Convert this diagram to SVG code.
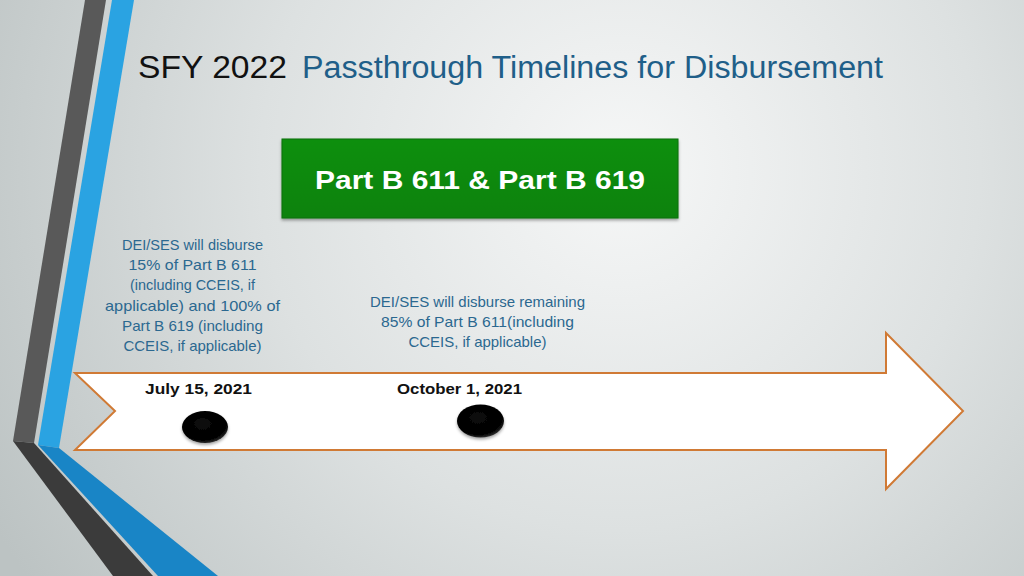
<svg xmlns="http://www.w3.org/2000/svg" width="1024" height="576" viewBox="0 0 1024 576">
<defs>
<radialGradient id="bg" cx="620" cy="170" r="720" gradientUnits="userSpaceOnUse">
<stop offset="0" stop-color="#f6f7f7"/>
<stop offset="0.5" stop-color="#dde1e1"/>
<stop offset="1" stop-color="#bcc3c3"/>
</radialGradient>
<radialGradient id="dot" cx="0.45" cy="0.4" r="0.6">
<stop offset="0" stop-color="#0a0a0a"/>
<stop offset="0.85" stop-color="#000"/>
<stop offset="1" stop-color="#2a2a2a"/>
</radialGradient>
<linearGradient id="grn" x1="0" y1="0" x2="0" y2="1">
<stop offset="0" stop-color="#0b8f0b"/>
<stop offset="1" stop-color="#08820a"/>
</linearGradient>
<filter id="sh" x="-20%" y="-20%" width="140%" height="160%">
<feGaussianBlur in="SourceAlpha" stdDeviation="1.5"/>
<feOffset dx="0" dy="2" result="b"/>
<feFlood flood-color="#000" flood-opacity="0.35"/>
<feComposite in2="b" operator="in"/>
<feMerge><feMergeNode/><feMergeNode in="SourceGraphic"/></feMerge>
</filter>
</defs>
<style>
.note{font-family:"Liberation Sans",Arial,sans-serif;font-size:15px;fill:#2b6890;text-anchor:middle}
.date{font-family:"Liberation Sans",Arial,sans-serif;font-size:15px;font-weight:bold;fill:#111;text-anchor:middle}
.title{font-family:"Liberation Sans",Arial,sans-serif;font-size:31px}
</style>
<rect width="1024" height="576" fill="url(#bg)"/>
<g id="decor">
<polygon points="85,0 106,0 34,443 13,441" fill="#595959"/>
<polygon points="112,0 134,0 59,448 38,445" fill="#2aa3e2"/>
<polygon points="13,441 34,443 153,576 113,576" fill="#3b3b3b"/>
<polygon points="38,445 59,448 218,576 158,576" fill="#1985c6"/>
</g>
<g id="title">
<text class="title" x="138" y="78"><tspan fill="#111" textLength="149" lengthAdjust="spacingAndGlyphs">SFY 2022</tspan><tspan fill="#1f5f89" x="302" textLength="581" lengthAdjust="spacingAndGlyphs">Passthrough Timelines for Disbursement</tspan></text>
</g>
<g id="header-box">
<rect x="282" y="139" width="396" height="79" fill="url(#grn)" stroke="#0b6f0b" stroke-width="1" filter="url(#sh)"/>
<text x="480" y="189" font-family="'Liberation Sans',Arial,sans-serif" font-size="26" font-weight="bold" fill="#fff" text-anchor="middle" textLength="330" lengthAdjust="spacingAndGlyphs">Part B 611 &amp; Part B 619</text>
</g>
<g id="timeline-arrow">
<polygon points="75,373 886,373 886,333 963,411 886,489 886,450 75,450 115,411" fill="#fff" stroke="#d07a35" stroke-width="2" stroke-linejoin="miter"/>
</g>
<g id="note-july">
<text class="note" x="192.5" y="250" textLength="141" lengthAdjust="spacingAndGlyphs">DEI/SES will disburse</text>
<text class="note" x="192.5" y="270" textLength="128" lengthAdjust="spacingAndGlyphs">15% of Part B 611</text>
<text class="note" x="192.5" y="290" textLength="125" lengthAdjust="spacingAndGlyphs">(including CCEIS, if</text>
<text class="note" x="192.5" y="311" textLength="175" lengthAdjust="spacingAndGlyphs">applicable) and 100% of</text>
<text class="note" x="192.5" y="331" textLength="141" lengthAdjust="spacingAndGlyphs">Part B 619 (including</text>
<text class="note" x="192.5" y="351" textLength="138" lengthAdjust="spacingAndGlyphs">CCEIS, if applicable)</text>
</g>
<g id="note-october">
<text class="note" x="477.5" y="307" textLength="215" lengthAdjust="spacingAndGlyphs">DEI/SES will disburse remaining</text>
<text class="note" x="477.5" y="327" textLength="193" lengthAdjust="spacingAndGlyphs">85% of Part B 611(including</text>
<text class="note" x="477.5" y="347" textLength="138" lengthAdjust="spacingAndGlyphs">CCEIS, if applicable)</text>
</g>
<g id="milestone-july">
<text class="date" x="198.5" y="394" textLength="107" lengthAdjust="spacingAndGlyphs">July 15, 2021</text>
<ellipse cx="205" cy="427" rx="23" ry="16" fill="url(#dot)" filter="url(#sh)"/>
</g>
<g id="milestone-october">
<text class="date" x="459.5" y="394" textLength="125" lengthAdjust="spacingAndGlyphs">October 1, 2021</text>
<ellipse cx="480.5" cy="421" rx="23.5" ry="16.5" fill="url(#dot)" filter="url(#sh)"/>
</g>
<g id="connectors"/>
</svg>
